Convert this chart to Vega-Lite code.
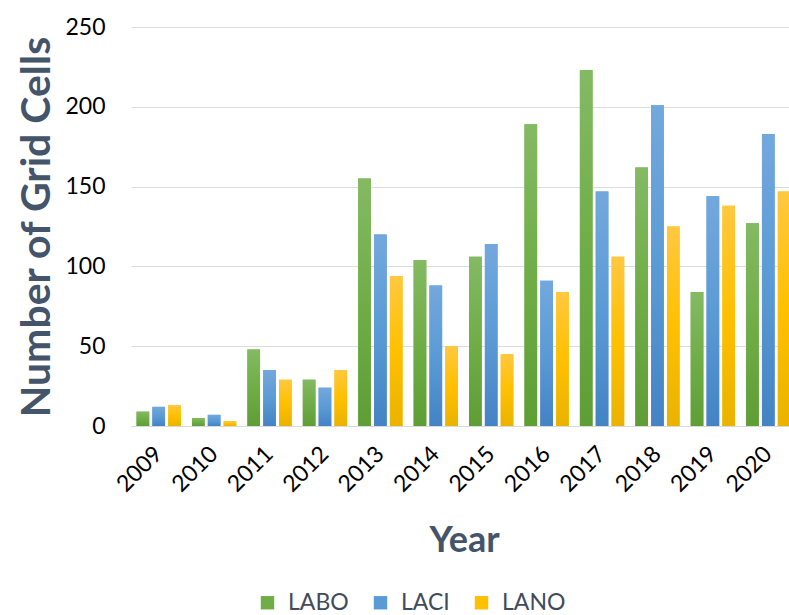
{
  "$schema": "https://vega.github.io/schema/vega-lite/v6.json",
  "width": 658,
  "height": 399,
  "autosize": "none",
  "padding": {"left": 131, "top": 27, "right": 0, "bottom": 189},
  "background": "white",
  "config": {"font": "Lato", "view": {"stroke": null}},
  "data": {
    "values": [
      {"year": "2009", "series": "LABO", "value": 9},
      {"year": "2009", "series": "LACI", "value": 12},
      {"year": "2009", "series": "LANO", "value": 13},
      {"year": "2010", "series": "LABO", "value": 5},
      {"year": "2010", "series": "LACI", "value": 7},
      {"year": "2010", "series": "LANO", "value": 3},
      {"year": "2011", "series": "LABO", "value": 48},
      {"year": "2011", "series": "LACI", "value": 35},
      {"year": "2011", "series": "LANO", "value": 29},
      {"year": "2012", "series": "LABO", "value": 29},
      {"year": "2012", "series": "LACI", "value": 24},
      {"year": "2012", "series": "LANO", "value": 35},
      {"year": "2013", "series": "LABO", "value": 155},
      {"year": "2013", "series": "LACI", "value": 120},
      {"year": "2013", "series": "LANO", "value": 94},
      {"year": "2014", "series": "LABO", "value": 104},
      {"year": "2014", "series": "LACI", "value": 88},
      {"year": "2014", "series": "LANO", "value": 50},
      {"year": "2015", "series": "LABO", "value": 106},
      {"year": "2015", "series": "LACI", "value": 114},
      {"year": "2015", "series": "LANO", "value": 45},
      {"year": "2016", "series": "LABO", "value": 189},
      {"year": "2016", "series": "LACI", "value": 91},
      {"year": "2016", "series": "LANO", "value": 84},
      {"year": "2017", "series": "LABO", "value": 223},
      {"year": "2017", "series": "LACI", "value": 147},
      {"year": "2017", "series": "LANO", "value": 106},
      {"year": "2018", "series": "LABO", "value": 162},
      {"year": "2018", "series": "LACI", "value": 201},
      {"year": "2018", "series": "LANO", "value": 125},
      {"year": "2019", "series": "LABO", "value": 84},
      {"year": "2019", "series": "LACI", "value": 144},
      {"year": "2019", "series": "LANO", "value": 138},
      {"year": "2020", "series": "LABO", "value": 127},
      {"year": "2020", "series": "LACI", "value": 183},
      {"year": "2020", "series": "LANO", "value": 147}
    ]
  },
  "encoding": {
    "x": {
      "field": "year",
      "type": "nominal",
      "scale": {"range": [0, 665], "paddingInner": 0.2, "paddingOuter": 0.1},
      "axis": {
        "title": "Year",
        "titleFontSize": 36,
        "titleFontWeight": "bold",
        "titleColor": "#44546A",
        "titleX": 333,
        "titleY": 125,
        "titleAlign": "center",
        "titleBaseline": "alphabetic",
        "labelAngle": -45,
        "labelAlign": "right",
        "labelBaseline": "middle",
        "labelFontSize": 23,
        "labelColor": "#000000",
        "labelPadding": 24,
        "ticks": false,
        "tickSize": 0,
        "domainColor": "#D9D9D9",
        "domainWidth": 1
      }
    },
    "xOffset": {
      "field": "series",
      "type": "nominal",
      "scale": {"domain": ["LABO", "LACI", "LANO"], "paddingInner": 0.2, "paddingOuter": 0}
    },
    "y": {
      "field": "value",
      "type": "quantitative",
      "scale": {"domain": [0, 250], "nice": false},
      "axis": {
        "title": "Number of Grid Cells",
        "titleFontSize": 41,
        "titleFontWeight": "bold",
        "titleColor": "#44546A",
        "titleAngle": -90,
        "titleX": -82,
        "titleY": 199.5,
        "titleAlign": "center",
        "titleBaseline": "alphabetic",
        "values": [0, 50, 100, 150, 200, 250],
        "labelFontSize": 23,
        "labelColor": "#000000",
        "labelPadding": 26,
        "ticks": false,
        "tickSize": 0,
        "domain": false,
        "gridColor": "#DCDCDC",
        "gridWidth": 1
      }
    }
  },
  "layer": [
    {
      "mark": {"type": "bar"},
      "encoding": {
        "color": {
          "field": "series",
          "type": "nominal",
          "scale": {"domain": ["LABO", "LACI", "LANO"], "range": ["#70AD47", "#5B9BD5", "#FFC000"]},
          "legend": {
            "orient": "none",
            "direction": "horizontal",
            "legendX": 125,
            "legendY": 564,
            "title": null,
            "padding": 0,
            "symbolType": "square",
            "symbolSize": 180,
            "symbolStrokeWidth": 0,
            "labelFontSize": 23,
            "labelColor": "#404B5A",
            "labelOffset": 9,
            "columnPadding": 20
          }
        }
      }
    },
    {
      "mark": {"type": "bar"},
      "encoding": {
        "fill": {
          "condition": [
            {
              "test": "datum.series === 'LABO'",
              "value": {"gradient": "linear", "x1": 0, "y1": 0, "x2": 0, "y2": 1,
                "stops": [{"offset": 0, "color": "#84BA63"}, {"offset": 0.5, "color": "#70AD47"}, {"offset": 1, "color": "#5E9E35"}]}
            },
            {
              "test": "datum.series === 'LACI'",
              "value": {"gradient": "linear", "x1": 0, "y1": 0, "x2": 0, "y2": 1,
                "stops": [{"offset": 0, "color": "#73A8DD"}, {"offset": 0.5, "color": "#5B9BD5"}, {"offset": 1, "color": "#4483C4"}]}
            }
          ],
          "value": {"gradient": "linear", "x1": 0, "y1": 0, "x2": 0, "y2": 1,
            "stops": [{"offset": 0, "color": "#FFC840"}, {"offset": 0.5, "color": "#FFC000"}, {"offset": 1, "color": "#EAB300"}]}
        }
      }
    }
  ]
}
